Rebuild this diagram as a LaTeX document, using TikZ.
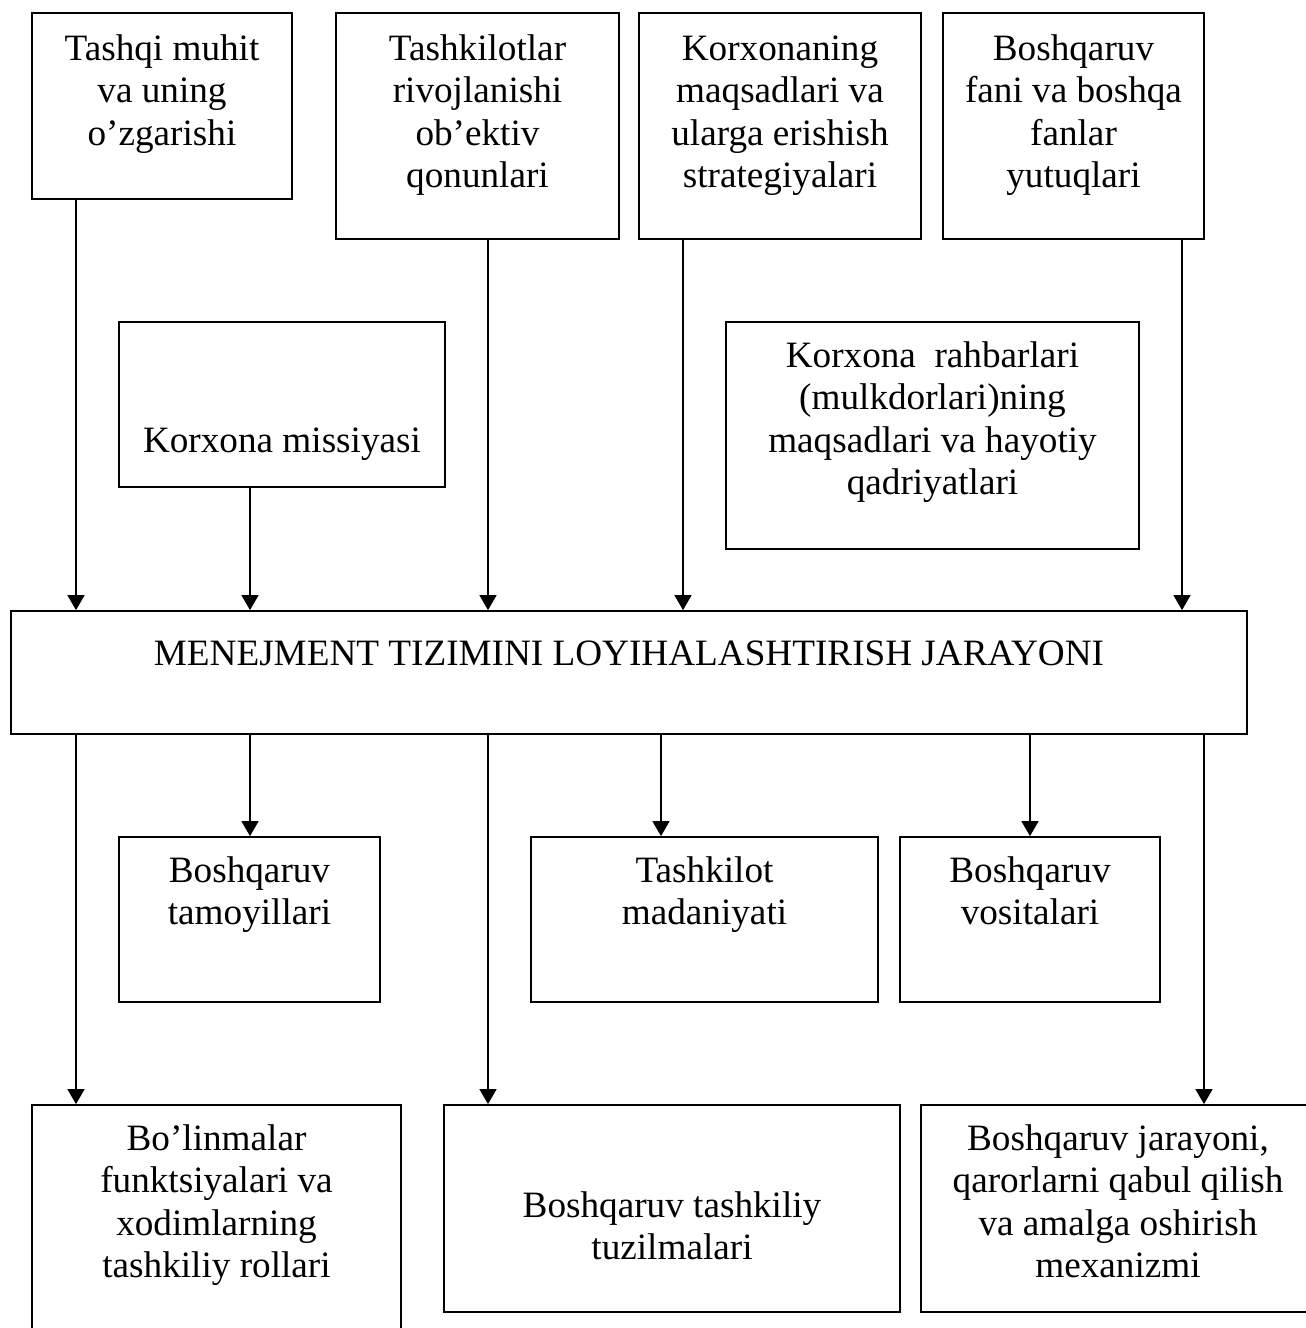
\documentclass[tikz,border=0pt]{standalone}
\usepackage{fontspec}
\setmainfont{Liberation Serif}
\usetikzlibrary{arrows.meta,fit}
\tikzset{
  box/.style={draw, line width=0.9pt, inner sep=0pt},
  txt/.style={anchor=north, align=center, inner sep=0pt,
              font=\fontsize{18.6}{21.25}\selectfont},
  arr/.style={line width=0.8pt, -{Triangle[length=7.5pt,width=8.5pt]}}
}
\begin{document}
\begin{tikzpicture}[x=0.5pt, y=-0.5pt]
  % page frame: everything is laid out in pixel units, y growing downward
  \path[use as bounding box, fill=white] (0,0) rectangle (1306,1328);
  \clip (0,0) rectangle (1306,1328);

  % columns used by the connectors
  \coordinate (xA) at (76,0);
  \coordinate (xB) at (250,0);
  \coordinate (xC) at (488,0);
  \coordinate (xD) at (683,0);
  \coordinate (xE) at (1182,0);
  \coordinate (xF) at (661,0);
  \coordinate (xG) at (1030,0);
  \coordinate (xH) at (1204,0);

  % upper row of inputs
  \node[box, fit={(32,13) (292,199)}] (b1) {};
  \node[box, fit={(336,13) (619,239)}] (b2) {};
  \node[box, fit={(639,13) (921,239)}] (b3) {};
  \node[box, fit={(943,13) (1204,239)}] (b4) {};
  \node[txt] (t1) at (162,30.25) {\strut Tashqi muhit\\va uning\\o’zgarishi};
  \node[txt] (t2) at (477.5,30.25) {\strut Tashkilotlar\\rivojlanishi\\ob’ektiv\\qonunlari};
  \node[txt] (t3) at (780,30.25) {\strut Korxonaning\\maqsadlari va\\ularga erishish\\strategiyalari};
  \node[txt] (t4) at (1073.5,30.25) {\strut Boshqaruv\\fani va boshqa\\fanlar\\yutuqlari};

  % second row of inputs
  \node[box, fit={(119,322) (445,487)}] (b5) {};
  \node[box, fit={(726,322) (1139,549)}] (b6) {};
  \node[txt] (t5) at (282,422.25) {\strut Korxona missiyasi};
  \node[txt] (t6) at (932.5,337.25) {\strut Korxona \ rahbarlari\\(mulkdorlari)ning\\maqsadlari va hayotiy\\qadriyatlari};

  % central process
  \node[box, fit={(11,611) (1247,734)}] (main) {};
  \node[txt] (tm) at (629,635.25) {\strut MENEJMENT TIZIMINI LOYIHALASHTIRISH JARAYONI};

  % first row of outputs
  \node[box, fit={(119,837) (380,1002)}] (b8) {};
  \node[box, fit={(531,837) (878,1002)}] (b9) {};
  \node[box, fit={(900,837) (1160,1002)}] (b10) {};
  \node[txt] (t8) at (249.5,852.25) {\strut Boshqaruv\\tamoyillari};
  \node[txt] (t9) at (704.5,852.25) {\strut Tashkilot\\madaniyati};
  \node[txt] (t10) at (1030,852.25) {\strut Boshqaruv\\vositalari};

  % bottom row of outputs
  \node[box, fit={(32,1105) (401,1350)}] (b11) {};
  \node[box, fit={(444,1105) (900,1312)}] (b12) {};
  \node[box, fit={(921,1105) (1315,1312)}] (b13) {};
  \node[txt] (t11) at (216.5,1120.25) {\strut Bo’linmalar\\funktsiyalari va\\xodimlarning\\tashkiliy rollari};
  \node[txt] (t12) at (672,1187) {\strut Boshqaruv tashkiliy\\tuzilmalari};
  \node[txt] (t13) at (1118,1120.25) {\strut Boshqaruv jarayoni,\\qarorlarni qabul qilish\\va amalga oshirish\\mexanizmi};

  % inputs into the process
  \draw[arr] (b1.south -| xA) -- (main.north -| xA);
  \draw[arr] (b5.south -| xB) -- (main.north -| xB);
  \draw[arr] (b2.south -| xC) -- (main.north -| xC);
  \draw[arr] (b3.south -| xD) -- (main.north -| xD);
  \draw[arr] (b4.south -| xE) -- (main.north -| xE);

  % outputs of the process
  \draw[arr] (main.south -| xA) -- (b11.north -| xA);
  \draw[arr] (main.south -| xB) -- (b8.north -| xB);
  \draw[arr] (main.south -| xC) -- (b12.north -| xC);
  \draw[arr] (main.south -| xF) -- (b9.north -| xF);
  \draw[arr] (main.south -| xG) -- (b10.north -| xG);
  \draw[arr] (main.south -| xH) -- (b13.north -| xH);
\end{tikzpicture}
\end{document}
